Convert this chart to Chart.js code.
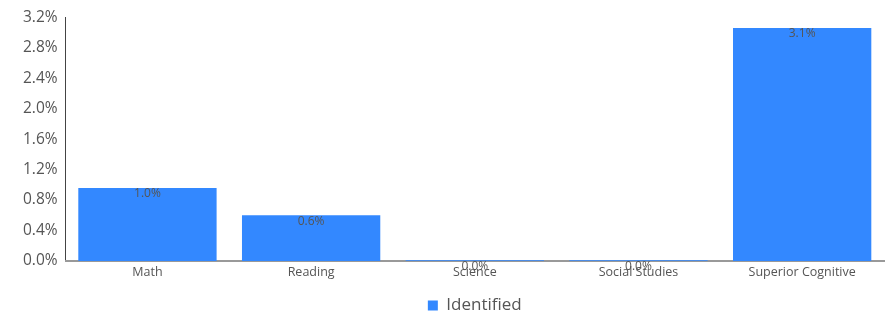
<!DOCTYPE html>
<html>
<head>
<meta charset="utf-8">
<script src="https://cdn.jsdelivr.net/npm/chart.js@4"></script>
<style>
  html, body { margin: 0; padding: 0; background: #fff; }
  #wrap { width: 888px; height: 318px; }
</style>
</head>
<body>
<div id="wrap"><canvas id="chart"></canvas></div>
<script>
const categories = ['Math', 'Reading', 'Science', 'Social Studies', 'Superior Cognitive'];
const identified = [0.96, 0.6, 0.01, 0.01, 3.06];
const seriesName = 'Identified';

// étiquettes de valeur en haut de chaque barre
const valueLabels = {
    id: 'valueLabels',
    afterDatasetsDraw(chart) {
        const ctx = chart.ctx;
        const meta = chart.getDatasetMeta(0);
        ctx.save();
        ctx.font = '12px "Open Sans"';
        ctx.fillStyle = '#555';
        ctx.textAlign = 'center';
        ctx.textBaseline = 'top';
        meta.data.forEach((bar, i) => {
            ctx.fillText(identified[i].toFixed(1) + '%', bar.x, bar.y);
        });
        ctx.restore();
    }
};

new Chart(document.getElementById('chart'), {
    type: 'bar',
    data: {
        labels: categories,
        datasets: [{
            label: seriesName,
            data: identified,
            backgroundColor: '#3388ff',
            borderWidth: 0,
            barPercentage: 0.845,
            categoryPercentage: 1,
        }]
    },
    options: {
        responsive: true,
        maintainAspectRatio: false,
        animation: false,
        layout: { padding: { top: 10, right: 4, left: 15, bottom: -6 } },
        scales: {
            y: {
                min: 0,
                max: 3.2,
                grid: { display: false, drawTicks: false },
                border: { display: true, color: '#444', width: 1 },
                ticks: {
                    stepSize: 0.4,
                    padding: 8,
                    color: '#555',
                    font: { family: 'Open Sans', size: 15.5 },
                    callback: v => v.toFixed(1) + '%'
                }
            },
            x: {
                grid: { display: false, drawTicks: false },
                border: { display: true, color: '#999', width: 2 },
                ticks: {
                    padding: 4,
                    color: '#555',
                    font: { family: 'Open Sans', size: 12.5 }
                }
            }
        },
        plugins: {
            legend: {
                position: 'bottom',
                fullSize: false,
                labels: {
                    boxWidth: 10,
                    boxHeight: 10,
                    color: '#555',
                    padding: 13,
                    font: { family: 'Open Sans', size: 17 }
                }
            },
            tooltip: { enabled: false }
        }
    },
    plugins: [valueLabels]
});
</script>
</body>
</html>
